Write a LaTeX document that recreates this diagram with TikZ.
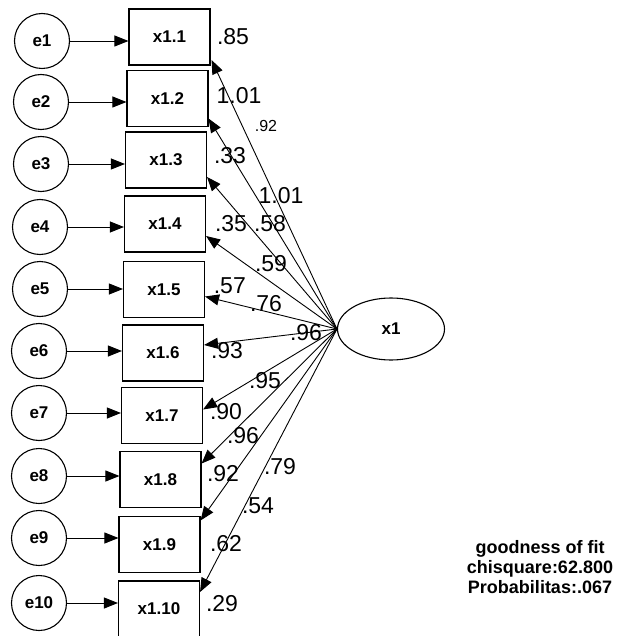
\documentclass[tikz,border=0pt]{standalone}
\usepackage{fontspec}
\setmainfont{Liberation Sans}
\usetikzlibrary{arrows.meta,calc,shapes.geometric}
\begin{document}
\begin{tikzpicture}[x=1pt,y=-1pt,
  err/.style={draw,line width=1.1pt,circle,minimum size=55pt,inner sep=0pt,font=\fontsize{17}{19}\selectfont\bfseries},
  obs/.style={draw,line width=1.1pt,minimum width=81pt,minimum height=56pt,inner sep=0pt,font=\fontsize{17}{19}\selectfont\bfseries},
  lat/.style={draw,line width=1.1pt,ellipse,minimum width=107pt,minimum height=62pt,inner sep=0pt,font=\fontsize{17}{19}\selectfont\bfseries},
  arr/.style={line width=0.9pt,-{Triangle[length=14pt,width=11pt]}},
  num/.style={font=\fontsize{23}{25}\selectfont,inner sep=0pt},
  snum/.style={font=\fontsize{16}{18}\selectfont,inner sep=0pt},
  gof/.style={font=\fontsize{18}{20}\selectfont\bfseries,align=center,inner sep=0pt}
]
\useasboundingbox (0,0) rectangle (617,636);

% error terms
\node[err] (e1)  at (42,41)  {e1};
\node[err] (e2)  at (41,102) {e2};
\node[err] (e3)  at (41,164) {e3};
\node[err] (e4)  at (40,227) {e4};
\node[err] (e5)  at (40,289) {e5};
\node[err] (e6)  at (39,351) {e6};
\node[err] (e7)  at (39,413) {e7};
\node[err] (e8)  at (39,476) {e8};
\node[err] (e9)  at (39,538) {e9};
\node[err] (e10) at (39,603) {e10};

% observed
\node[obs] (b1)  at (169.5,37)  {x1.1};
\node[obs] (b2)  at (167.5,98.5) {x1.2};
\node[obs] (b3)  at (166,160)   {x1.3};
\node[obs] (b4)  at (165,224)   {x1.4};
\node[obs] (b5)  at (164,289.5) {x1.5};
\node[obs] (b6)  at (163,353)   {x1.6};
\node[obs] (b7)  at (162,415.5) {x1.7};
\node[obs] (b8)  at (160.5,479.5) {x1.8};
\node[obs] (b9)  at (159.5,544.5) {x1.9};
\node[obs] (b10) at (159,609)   {x1.10};

% latent
\node[lat] (x1) at (391,329) {x1};

% labels
\node[num] (l1)  at (233,37)  {.85};
\node[num] (l2)  at (239,96)  {1.01};
\node[snum] (l3) at (266,126) {.92};
\node[num] (l4)  at (230,156) {.33};
\node[num] (l5)  at (281,196) {1.01};
\node[num] (l6)  at (231,224) {.35};
\node[num] (l7)  at (270,224) {.58};
\node[num] (l8)  at (271,264) {.59};
\node[num,anchor=east] (l9) at (246,286) {.57};
\node[num] (l10) at (266,304) {.76};
\node[num] (l11) at (306,333) {.96};
\node[num] (l12) at (227,351) {.93};
\node[num] (l13) at (265,381) {.95};
\node[num] (l14) at (226,412) {.90};
\node[num] (l15) at (243,436) {.96};
\node[num] (l16) at (223,474) {.92};
\node[num] (l17) at (280,467) {.79};
\node[num] (l18) at (258,506) {.54};
\node[num] (l19) at (226,544) {.62};
\node[num] (l20) at (222,604) {.29};

\node[gof] (gof) at (540,567) {goodness of fit\\chisquare:62.800\\Probabilitas:.067};

% error arrows
\foreach \i in {1,...,10}{
  \draw[arr] (e\i.east) -- (e\i.east -| b\i.west);
}

% loadings
\draw[arr] (x1.west) -- ($(b1.east)+(1,23)$);
\draw[arr] (x1.west) -- ($(b2.east)+(0,20)$);
\draw[arr] (x1.west) -- ($(b3.east)+(0,17)$);
\draw[arr] (x1.west) -- ($(b4.east)+(0,12)$);
\draw[arr] (x1.west) -- ($(b5.east)+(0,7)$);
\draw[arr] (x1.west) -- ($(b6.east)+(0,-8)$);
\draw[arr] (x1.west) -- ($(b7.east)+(0,-6)$);
\draw[arr] (x1.west) -- ($(b8.east)+(0,-16)$);
\draw[arr] (x1.west) -- ($(b9.east)+(0,-24)$);
\draw[arr] (x1.west) -- ($(b10.east)+(0,-17)$);
\end{tikzpicture}
\end{document}
